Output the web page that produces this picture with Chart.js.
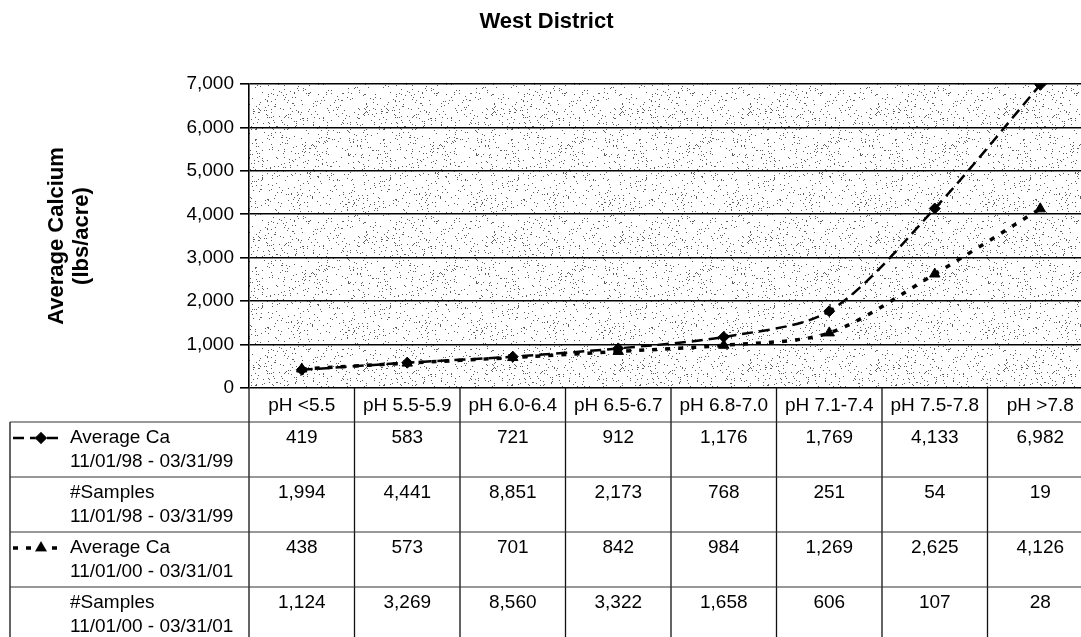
<!DOCTYPE html>
<html>
<head>
<meta charset="utf-8">
<title>West District</title>
<script src="https://cdn.jsdelivr.net/npm/chart.js@4.4.1/dist/chart.umd.min.js"></script>
<style>
  html, body { margin: 0; padding: 0; background: #fff; overflow: hidden; }
  canvas { display: block; }
</style>
</head>
<body>
<canvas id="c" width="1110" height="660"></canvas>
<script>
// pH classes (table header + x categories)
const phClasses = ['pH <5.5', 'pH 5.5-5.9', 'pH 6.0-6.4', 'pH 6.5-6.7', 'pH 6.8-7.0', 'pH 7.1-7.4', 'pH 7.5-7.8', 'pH >7.8'];

// Season 11/01/98 - 03/31/99
const avgCa9899 = [419, 583, 721, 912, 1176, 1769, 4133, 6982];
const samples9899 = [1994, 4441, 8851, 2173, 768, 251, 54, 19];

// Season 11/01/00 - 03/31/01
const avgCa0001 = [438, 573, 701, 842, 984, 1269, 2625, 4126];
const samples0001 = [1124, 3269, 8560, 3322, 1658, 606, 107, 28];

// Y axis
const yTicks = [0, 1000, 2000, 3000, 4000, 5000, 6000, 7000];

// Table row labels
const rowLabels = [
  ['Average Ca', '11/01/98 - 03/31/99'],
  ['#Samples', '11/01/98 - 03/31/99'],
  ['Average Ca', '11/01/00 - 03/31/01'],
  ['#Samples', '11/01/00 - 03/31/01']
];

const FONT = '"Liberation Sans", Arial, Helvetica, sans-serif';
const fmt = v => v.toLocaleString('en-US');

Chart.defaults.font.family = FONT;
Chart.defaults.color = '#000';

const series1 = { dash: [11, 6], width: 2.5, style: 'rectRot', radius: 5.5 };
const series2 = { dash: [5, 8], width: 3.5, style: 'triangle', radius: 6 };

// Stippled plot-area fill, built from a deterministic hash texture
function makeStipple() {
  const size = 128;
  const c = document.createElement('canvas');
  c.width = size; c.height = size;
  const g = c.getContext('2d');
  g.fillStyle = '#ffffff';
  g.fillRect(0, 0, size, size);
  g.fillStyle = '#5e5e5e';
  for (let y = 0; y < size; y++) {
    for (let x = 0; x < size; x++) {
      let h = (x * 374761393 + y * 668265263) | 0;
      h = (h ^ (h >>> 13)) * 1274126177 | 0;
      h = h ^ (h >>> 16);
      if ((h & 1023) < 46) g.fillRect(x, y, 1, 1);
    }
  }
  return c;
}

const stipplePlugin = {
  id: 'stipple',
  beforeDraw(chart) {
    const { ctx, chartArea: a } = chart;
    ctx.save();
    ctx.fillStyle = ctx.createPattern(makeStipple(), 'repeat');
    ctx.fillRect(a.left, a.top, a.right - a.left, a.bottom - a.top);
    ctx.restore();
  }
};

// Data table under the plot, aligned to the category scale
const tablePlugin = {
  id: 'dataTable',
  afterDraw(chart) {
    const { ctx, chartArea: a } = chart;
    const xs = chart.scales.x;
    const n = phClasses.length;
    const centers = phClasses.map((_, i) => xs.getPixelForValue(i));
    const half = (centers[1] - centers[0]) / 2;
    const bounds = centers.map(c => c - half).concat([centers[n - 1] + half]);
    const tableLeft = 10;
    const headerBottom = 422;
    const rowH = 55;
    const rowsData = [avgCa9899, samples9899, avgCa0001, samples0001];
    const tableBottom = headerBottom + rowH * rowsData.length;
    const right = bounds[n];

    ctx.save();
    // header labels
    ctx.font = '19px ' + FONT;
    ctx.fillStyle = '#000';
    ctx.textAlign = 'center';
    ctx.textBaseline = 'middle';
    phClasses.forEach((t, i) => ctx.fillText(t, centers[i], (a.bottom + headerBottom) / 2 + 1));

    // vertical rules
    ctx.strokeStyle = '#111';
    ctx.lineWidth = 1.3;
    bounds.forEach(b => {
      ctx.beginPath();
      ctx.moveTo(b, a.bottom);
      ctx.lineTo(b, tableBottom);
      ctx.stroke();
    });
    ctx.beginPath();
    ctx.moveTo(tableLeft, headerBottom);
    ctx.lineTo(tableLeft, tableBottom);
    ctx.stroke();

    // horizontal rules
    ctx.strokeStyle = '#333';
    ctx.lineWidth = 1.1;
    for (let r = 0; r <= rowsData.length; r++) {
      const y = headerBottom + r * rowH;
      ctx.beginPath();
      ctx.moveTo(tableLeft, y);
      ctx.lineTo(right, y);
      ctx.stroke();
    }

    // row labels and values
    rowsData.forEach((vals, r) => {
      const top = headerBottom + r * rowH;
      ctx.textAlign = 'left';
      ctx.fillText(rowLabels[r][0], 70, top + 16);
      ctx.fillText(rowLabels[r][1], 70, top + 40);
      ctx.textAlign = 'center';
      vals.forEach((v, i) => ctx.fillText(fmt(v), centers[i], top + 16));
    });

    // legend keys
    const keys = [[0, series1], [2, series2]];
    keys.forEach(([r, s]) => {
      const y = headerBottom + r * rowH + 16;
      ctx.save();
      ctx.strokeStyle = '#000';
      ctx.lineWidth = s.width;
      ctx.setLineDash(s.dash);
      ctx.beginPath();
      ctx.moveTo(13, y);
      ctx.lineTo(63, y);
      ctx.stroke();
      ctx.restore();
      Chart.helpers.drawPoint(ctx, {
        pointStyle: s.style, radius: s.radius, rotation: 0, borderWidth: 1
      }, 41, y);
      ctx.fillStyle = '#000';
      ctx.fill();
    });
    ctx.restore();
  }
};

function lineDataset(label, data, s) {
  return {
    label,
    data,
    borderColor: '#000',
    backgroundColor: '#000',
    borderWidth: s.width,
    borderDash: s.dash,
    pointStyle: s.style,
    pointRadius: s.radius,
    pointBackgroundColor: '#000',
    pointBorderColor: '#000',
    pointBorderWidth: 1,
    tension: 0.3,
    fill: false
  };
}

new Chart(document.getElementById('c'), {
  type: 'line',
  data: {
    labels: phClasses,
    datasets: [
      lineDataset('Average Ca 11/01/98 - 03/31/99', avgCa9899, series1),
      lineDataset('Average Ca 11/01/00 - 03/31/01', avgCa0001, series2)
    ]
  },
  options: {
    responsive: false,
    animation: false,
    devicePixelRatio: 1,
    layout: { padding: { left: 0, right: 17, top: 0, bottom: 272 } },
    plugins: {
      legend: { display: false },
      tooltip: { enabled: false },
      title: {
        display: true,
        text: 'West District',
        color: '#000',
        font: { size: 22, weight: 'bold', family: FONT },
        padding: { top: 9, bottom: 48.6 }
      }
    },
    scales: {
      x: {
        type: 'category',
        offset: true,
        display: false
      },
      y: {
        min: 0,
        max: 7000,
        afterBuildTicks: scale => { scale.ticks = yTicks.map(v => ({ value: v })); },
        afterFit: scale => { scale.width = 249; },
        ticks: {
          font: { size: 19, family: FONT },
          color: '#000',
          padding: 6,
          callback: v => fmt(v)
        },
        grid: {
          color: '#000',
          lineWidth: 1.6,
          tickLength: 9,
          drawTicks: true
        },
        border: { display: true, color: '#000', width: 1.6 },
        title: {
          display: true,
          text: ['Average Calcium', '(lbs/acre)'],
          color: '#000',
          font: { size: 22, weight: 'bold', family: FONT, lineHeight: 1.14 },
          padding: { top: 44, bottom: 0 }
        }
      }
    }
  },
  plugins: [stipplePlugin, tablePlugin]
});
</script>
</body>
</html>
